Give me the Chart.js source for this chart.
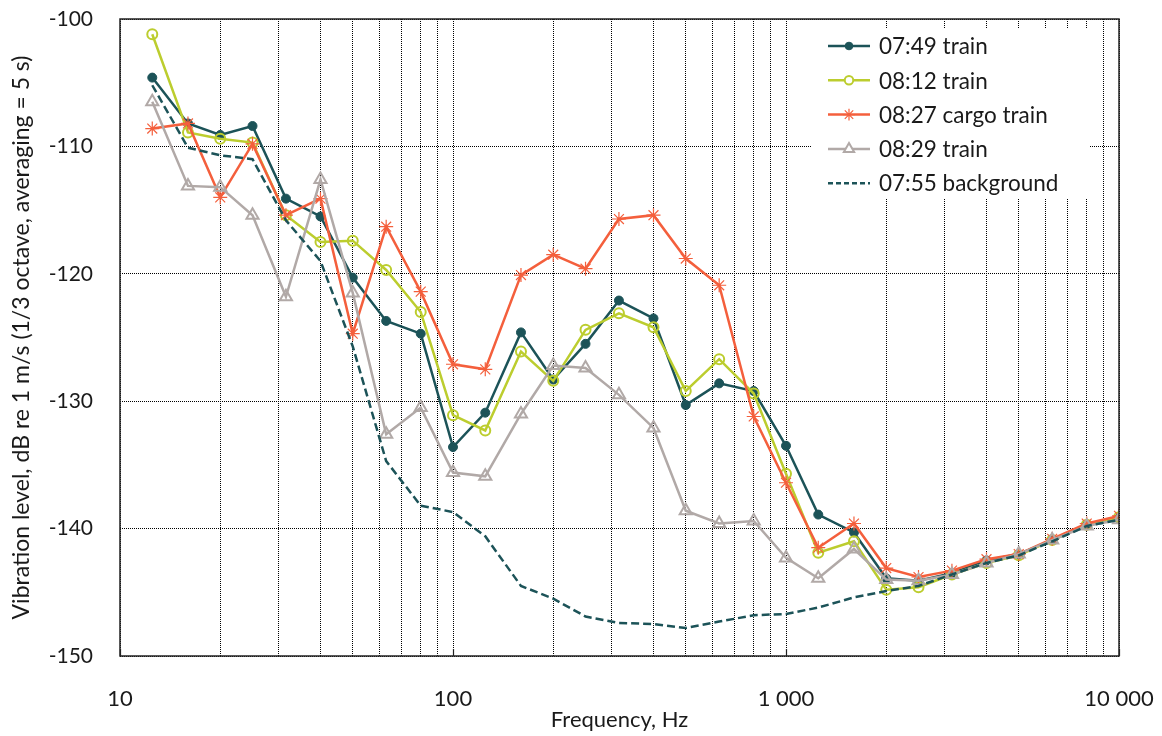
<!DOCTYPE html>
<html>
<head>
<meta charset="utf-8">
<script src="https://cdn.jsdelivr.net/npm/chart.js@4"></script>
<style>
  body { margin: 0; background: #fff; }
  #wrap { width: 1162px; height: 736px; position: relative; }
</style>
</head>
<body>
<div id="wrap"><canvas id="myChart"></canvas></div>
<script>
// 1/3 octave band centre frequencies, Hz
const freqs = [12.5, 16, 20, 25, 31.5, 40, 50, 63, 80, 100, 125, 160, 200, 250, 315, 400, 500, 630, 800,
    1000, 1250, 1600, 2000, 2500, 3150, 4000, 5000, 6300, 8000, 10000];

const train0749 = [-104.6, -108.2, -109.1, -108.4, -114.1, -115.5, -120.3, -123.7, -124.7, -133.6, -130.9, -124.6,
    -128.3, -125.5, -122.1, -123.5, -130.3, -128.6, -129.2, -133.5, -138.9, -140.3, -143.9, -144.1, -143.5, -142.5,
    -142.0, -140.9, -139.7, -139.2];
const train0812 = [-101.2, -108.9, -109.4, -109.7, -115.4, -117.5, -117.4, -119.7, -123.0, -131.1, -132.3, -126.1,
    -128.4, -124.4, -123.1, -124.2, -129.2, -126.7, -129.4, -135.7, -141.9, -141.0, -144.8, -144.6, -143.6, -142.7,
    -142.1, -140.9, -139.7, -139.1];
const cargo0827 = [-108.6, -108.2, -114.0, -109.8, -115.4, -114.1, -124.7, -116.3, -121.4, -127.1, -127.5, -120.1,
    -118.5, -119.6, -115.7, -115.4, -118.8, -120.9, -131.2, -136.4, -141.5, -139.6, -143.1, -143.8, -143.3, -142.4,
    -142.0, -140.8, -139.6, -139.0];
const train0829 = [-106.5, -113.1, -113.2, -115.4, -121.8, -112.6, -121.5, -132.6, -130.5, -135.6, -135.9, -131.0,
    -127.2, -127.4, -129.5, -132.1, -138.6, -139.6, -139.4, -142.3, -143.9, -141.6, -144.0, -144.1, -143.6, -142.7,
    -142.0, -140.9, -139.8, -139.3];
const background0755 = [-105.2, -110.1, -110.7, -111.0, -115.8, -119.0, -125.7, -134.7, -138.2, -138.7, -140.6,
    -144.5, -145.5, -146.9, -147.4, -147.5, -147.8, -147.3, -146.8, -146.7, -146.2, -145.4, -144.9, -144.5, -143.6,
    -142.7, -142.1, -141.0, -139.8, -139.3];

const seriesLabels = ['07:49 train', '08:12 train', '08:27 cargo train', '08:29 train', '07:55 background'];

// x axis: labelled decades and the minor steps between them
const xDecades = [10, 100, 1000, 10000];
const xDecadeLabels = ['10', '100', '1 000', '10 000'];
const xMinorSteps = [2, 3, 4, 5, 6, 7, 8, 9];
const yTicks = [-150, -140, -130, -120, -110, -100];

const FONT = 'Lato, "Open Sans", sans-serif';
const TEXT = '#1a1a1a';

const toPoints = ys => ys.map((y, i) => ({ x: freqs[i], y: y }));

document.addEventListener("DOMContentLoaded", function() {
    const ctx = document.getElementById('myChart').getContext('2d');

    const data = {
        datasets: [
            {
                label: seriesLabels[0],
                data: toPoints(train0749),
                borderColor: '#1c5358',
                backgroundColor: '#1c5358',
                borderWidth: 2.5,
                pointStyle: 'circle',
                pointRadius: 4.5,
                pointBorderWidth: 1,
                order: 5
            },
            {
                label: seriesLabels[1],
                data: toPoints(train0812),
                borderColor: '#bccd2e',
                backgroundColor: 'rgba(0,0,0,0)',
                borderWidth: 2.5,
                pointStyle: 'circle',
                pointRadius: 5,
                pointBorderWidth: 2,
                order: 4
            },
            {
                label: seriesLabels[2],
                data: toPoints(cargo0827),
                borderColor: '#f45f3c',
                backgroundColor: '#f45f3c',
                borderWidth: 2.5,
                pointStyle: 'star',
                pointRadius: 7,
                pointBorderWidth: 1.2,
                order: 3
            },
            {
                label: seriesLabels[3],
                data: toPoints(train0829),
                borderColor: '#b1a9a7',
                backgroundColor: 'rgba(0,0,0,0)',
                borderWidth: 2.5,
                pointStyle: 'triangle',
                pointRadius: 7,
                pointBorderWidth: 2,
                order: 2
            },
            {
                label: seriesLabels[4],
                data: toPoints(background0755),
                borderColor: '#1c5358',
                backgroundColor: '#1c5358',
                borderWidth: 2.5,
                borderDash: [8, 4],
                pointRadius: 0,
                order: 1
            }
        ]
    };

    // Excel style legend box inside the plot area, plus the frame round the plot
    const boxLegend = {
        id: 'boxLegend',
        afterDatasetsDraw(chart) {
            const c = chart.ctx;
            const x0 = 812, y0 = 28, w = 278, h = 170;
            c.save();
            c.fillStyle = '#fff';
            c.fillRect(x0, y0, w, h);
            c.font = '22.5px ' + FONT;
            c.textBaseline = 'middle';
            chart.data.datasets.forEach((ds, i) => {
                const y = 46 + i * 34.3;
                c.save();
                c.strokeStyle = ds.borderColor;
                c.lineWidth = ds.borderWidth;
                c.setLineDash(ds.borderDash ? [5, 3] : []);
                c.beginPath();
                c.moveTo(828, y);
                c.lineTo(870, y);
                c.stroke();
                c.restore();
                if (ds.pointRadius > 0) {
                    c.fillStyle = ds.pointStyle === 'circle' && ds.backgroundColor !== 'rgba(0,0,0,0)' ? ds.backgroundColor : '#fff';
                    c.strokeStyle = ds.borderColor;
                    c.lineWidth = ds.pointBorderWidth;
                    Chart.helpers.drawPoint(c, {
                        pointStyle: ds.pointStyle,
                        radius: ds.pointRadius * 0.85,
                        borderWidth: ds.pointBorderWidth,
                        rotation: 0
                    }, 849, y);
                }
                c.fillStyle = TEXT;
                c.fillText(ds.label, 879, y + 1);
            });
            c.restore();
        },
        afterDraw(chart) {
            const a = chart.chartArea;
            const c = chart.ctx;
            const xs = chart.scales.x;
            c.save();
            c.strokeStyle = '#222';
            c.lineWidth = 1.5;
            c.strokeRect(a.left, a.top, a.right - a.left, a.bottom - a.top);
            // short inside tick marks at the decades
            c.lineWidth = 1.2;
            c.beginPath();
            xDecades.forEach(d => {
                const px = Math.round(xs.getPixelForValue(d)) + 0.5;
                c.moveTo(px, a.bottom);
                c.lineTo(px, a.bottom - 7);
            });
            c.stroke();
            c.restore();
        }
    };

    const gridDots = {
        color: '#000',
        lineWidth: 1,
        drawTicks: false
    };

    const config = {
        type: 'line',
        data: data,
        options: {
            responsive: true,
            maintainAspectRatio: false,
            animation: false,
            layout: { padding: { top: 19, right: 43, left: 0, bottom: 0 } },
            elements: { line: { tension: 0 } },
            scales: {
                x: {
                    type: 'logarithmic',
                    min: 10,
                    max: 10000,
                    afterBuildTicks: function(scale) {
                        const ticks = [];
                        xDecades.forEach((d, i) => {
                            ticks.push({ value: d });
                            if (i < xDecades.length - 1) {
                                xMinorSteps.forEach(s => ticks.push({ value: d * s }));
                            }
                        });
                        scale.ticks = ticks;
                    },
                    afterFit: function(scale) {
                        scale.height = 80;
                        scale.paddingLeft = 0;   // keep the label overflow out of the layout
                        scale.paddingRight = 0;
                    },
                    grid: gridDots,
                    border: { display: false, dash: [1, 1] },
                    ticks: {
                        autoSkip: false,
                        maxRotation: 0,
                        padding: 30,
                        color: TEXT,
                        font: { family: FONT, size: 22 },
                        callback: function(value) {
                            const i = xDecades.indexOf(value);
                            return i >= 0 ? xDecadeLabels[i] : '';
                        }
                    },
                    title: {
                        display: true,
                        text: 'Frequency, Hz',
                        color: TEXT,
                        font: { family: FONT, size: 22 },
                        padding: { top: 0, bottom: 3 }
                    }
                },
                y: {
                    min: -150,
                    max: -100,
                    afterBuildTicks: function(scale) {
                        scale.ticks = yTicks.map(v => ({ value: v }));
                    },
                    afterFit: function(scale) {
                        scale.width = 120;
                        scale.paddingTop = 0;
                        scale.paddingBottom = 0;
                    },
                    grid: gridDots,
                    border: { display: false, dash: [1, 1] },
                    ticks: {
                        padding: 27,
                        color: TEXT,
                        font: { family: FONT, size: 21 }
                    },
                    title: {
                        display: true,
                        text: 'Vibration level, dB re 1 m/s (1/3 octave, averaging = 5 s)',
                        color: TEXT,
                        font: { family: FONT, size: 23 },
                        padding: { top: 8, bottom: 0 }
                    }
                }
            },
            plugins: {
                legend: { display: false },
                tooltip: { enabled: false }
            }
        },
        plugins: [boxLegend]
    };

    const myChart = new Chart(ctx, config);
});
</script>
</body>
</html>
